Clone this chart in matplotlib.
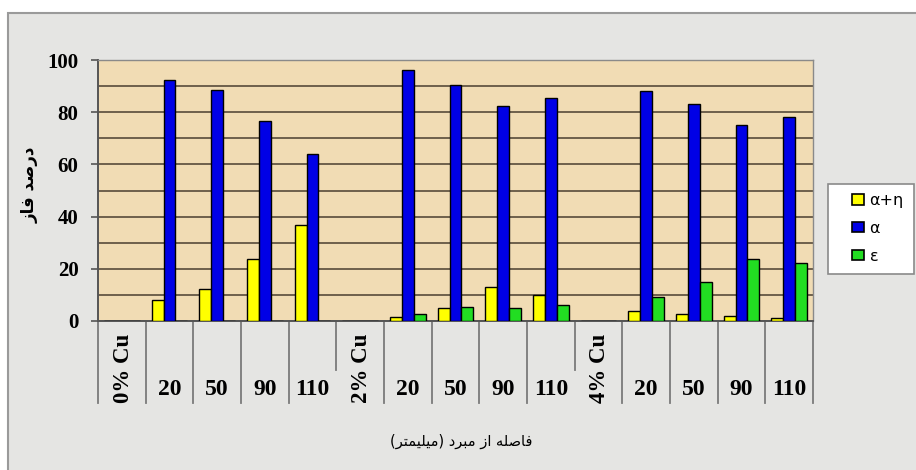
import matplotlib.pyplot as plt
import numpy as np
from matplotlib.patches import Rectangle
import matplotlib.transforms as mtransforms

# category axis (distance from chill, mm) grouped by Cu content
categories = ["0% Cu", "20", "50", "90", "110",
              "2% Cu", "20", "50", "90", "110",
              "4% Cu", "20", "50", "90", "110"]
group_labels = ["0% Cu", "2% Cu", "4% Cu"]

# phase percentages
alpha_eta = [0, 8.0, 12.3, 23.6, 36.8, 0, 1.7, 5.0, 13.1, 10.0, 0, 3.8, 2.7, 1.9, 1.3]
alpha = [0, 92.3, 88.5, 76.7, 64.0, 0, 96.2, 90.4, 82.4, 85.3, 0, 88.2, 83.1, 75.1, 78.0]
epsilon = [0, 0, 0, 0, 0, 0, 2.7, 5.5, 5.0, 6.1, 0, 9.3, 14.8, 23.6, 22.1]

series_names = ["α+η", "α", "ε"]
series_colors = ["#ffff00", "#0000e6", "#22dd22"]

y_title = "درصد فاز"
x_title = "فاصله از مبرد (میلیمتر)"

# minimal arabic-script shaping (matplotlib has no text shaping / bidi)
FORMS = {  # isolated, final, initial, medial
    'ا': ('\uFE8D', '\uFE8E', None, None),
    'د': ('\uFEA9', '\uFEAA', None, None),
    'ر': ('\uFEAD', '\uFEAE', None, None),
    'ز': ('\uFEAF', '\uFEB0', None, None),
    'ب': ('\uFE8F', '\uFE90', '\uFE91', '\uFE92'),
    'ت': ('\uFE95', '\uFE96', '\uFE97', '\uFE98'),
    'ص': ('\uFEB9', '\uFEBA', '\uFEBB', '\uFEBC'),
    'ف': ('\uFED1', '\uFED2', '\uFED3', '\uFED4'),
    'ل': ('\uFEDD', '\uFEDE', '\uFEDF', '\uFEE0'),
    'م': ('\uFEE1', '\uFEE2', '\uFEE3', '\uFEE4'),
    'ه': ('\uFEE9', '\uFEEA', '\uFEEB', '\uFEEC'),
    'ی': ('\uFBFC', '\uFBFD', '\uFBFE', '\uFBFF'),
}


def shape_rtl(text):
    out = []
    for i, ch in enumerate(text):
        if ch not in FORMS:
            out.append(ch)
            continue
        prev = text[i - 1] if i > 0 else ''
        nxt = text[i + 1] if i < len(text) - 1 else ''
        joins_prev = prev in FORMS and FORMS[prev][2] is not None
        joins_next = FORMS[ch][2] is not None and nxt in FORMS
        iso, fin, ini, med = FORMS[ch]
        if joins_prev and joins_next:
            out.append(med)
        elif joins_prev:
            out.append(fin)
        elif joins_next:
            out.append(ini)
        else:
            out.append(iso)
    mirror = {'(': ')', ')': '('}
    return ''.join(mirror.get(c, c) for c in reversed(out))


W, H = 916, 470
fig = plt.figure(figsize=(W / 100, H / 100), dpi=100, facecolor="white")

# chart area frame
fig.patches.append(Rectangle((8 / W, -0.02), 1.0, 1 - 13 / H + 0.02,
                             transform=fig.transFigure, facecolor="#e5e5e3",
                             edgecolor="#9a9a9a", linewidth=1.5, zorder=-10))

ax = fig.add_axes([98 / W, 1 - 321 / H, (813 - 98) / W, (321 - 60) / H])
ax.set_facecolor("#f1dcb4")

x = np.arange(len(categories))
bw = 0.25
for k, (vals, name, col) in enumerate(zip([alpha_eta, alpha, epsilon], series_names, series_colors)):
    ax.bar(x + (k - 1) * bw, vals, bw, color=col, edgecolor="black",
           linewidth=1.0, label=name, zorder=3)

ax.set_xlim(-0.5, len(categories) - 0.5)
ax.set_ylim(0, 100)
ax.set_yticks(np.arange(0, 101, 20))
ax.set_yticks(np.arange(0, 101, 10), minor=True)
ax.grid(axis="y", which="both", color="#6e604c", linewidth=1.4, zorder=1)
ax.tick_params(axis="y", which="major", length=5, width=1.2, color="#555555",
               pad=9, labelsize=15)
ax.tick_params(axis="y", which="minor", length=0)
for lab in ax.get_yticklabels():
    lab.set_fontfamily("Liberation Serif")
    lab.set_fontweight("bold")

ax.set_xticks([])
for side in ["top", "right"]:
    ax.spines[side].set_color("#8a8a8a")
    ax.spines[side].set_linewidth(1.0)
for side in ["left", "bottom"]:
    ax.spines[side].set_color("#555555")
    ax.spines[side].set_linewidth(1.4)

# multi-level category axis: separators and labels
trans = mtransforms.blended_transform_factory(ax.transData, ax.transAxes)
for i in range(len(categories) + 1):
    xb = i - 0.5
    short = 0 < i < len(categories) and categories[i] in group_labels
    y_end = -0.188 if short else -0.314
    ax.plot([xb, xb], [0, y_end], transform=trans, color="#7a7a7a",
            linewidth=1.3, clip_on=False)

for i, lab in enumerate(categories):
    if lab in group_labels:
        ax.text(i + 0.03, -0.18, lab, transform=trans, rotation=90, ha="center",
                va="center", fontsize=16.5, fontweight="bold",
                fontfamily="Liberation Serif")
    else:
        ax.text(i, -0.262, lab, transform=trans, ha="center", va="center",
                fontsize=17, fontweight="bold", fontfamily="Liberation Serif")

fig.text(30 / W, 1 - 185 / H, shape_rtl(y_title), rotation=90, ha="center",
         va="center", fontsize=12, fontweight="bold", fontfamily="DejaVu Sans")
fig.text(461 / W, 1 - 441 / H, shape_rtl(x_title), ha="center", va="center",
         fontsize=10.5, fontfamily="DejaVu Sans")

# legend box drawn separately, entries placed inside it
fig.patches.append(Rectangle((828 / W, 1 - 274 / H), 86 / W, 90 / H,
                             transform=fig.transFigure, facecolor="white",
                             edgecolor="#8a8a8a", linewidth=1.2, zorder=-5))
leg = ax.legend(loc="upper left", bbox_to_anchor=(852 / W, 1 - 193 / H),
                bbox_transform=fig.transFigure, frameon=False, fontsize=11.5,
                handlelength=0.75, handleheight=0.62, handletextpad=0.35,
                labelspacing=0.8, borderpad=0, borderaxespad=0)
for h in leg.legend_handles:
    h.set_linewidth(1.2)

fig.savefig("out.png", dpi=100, facecolor="white")
